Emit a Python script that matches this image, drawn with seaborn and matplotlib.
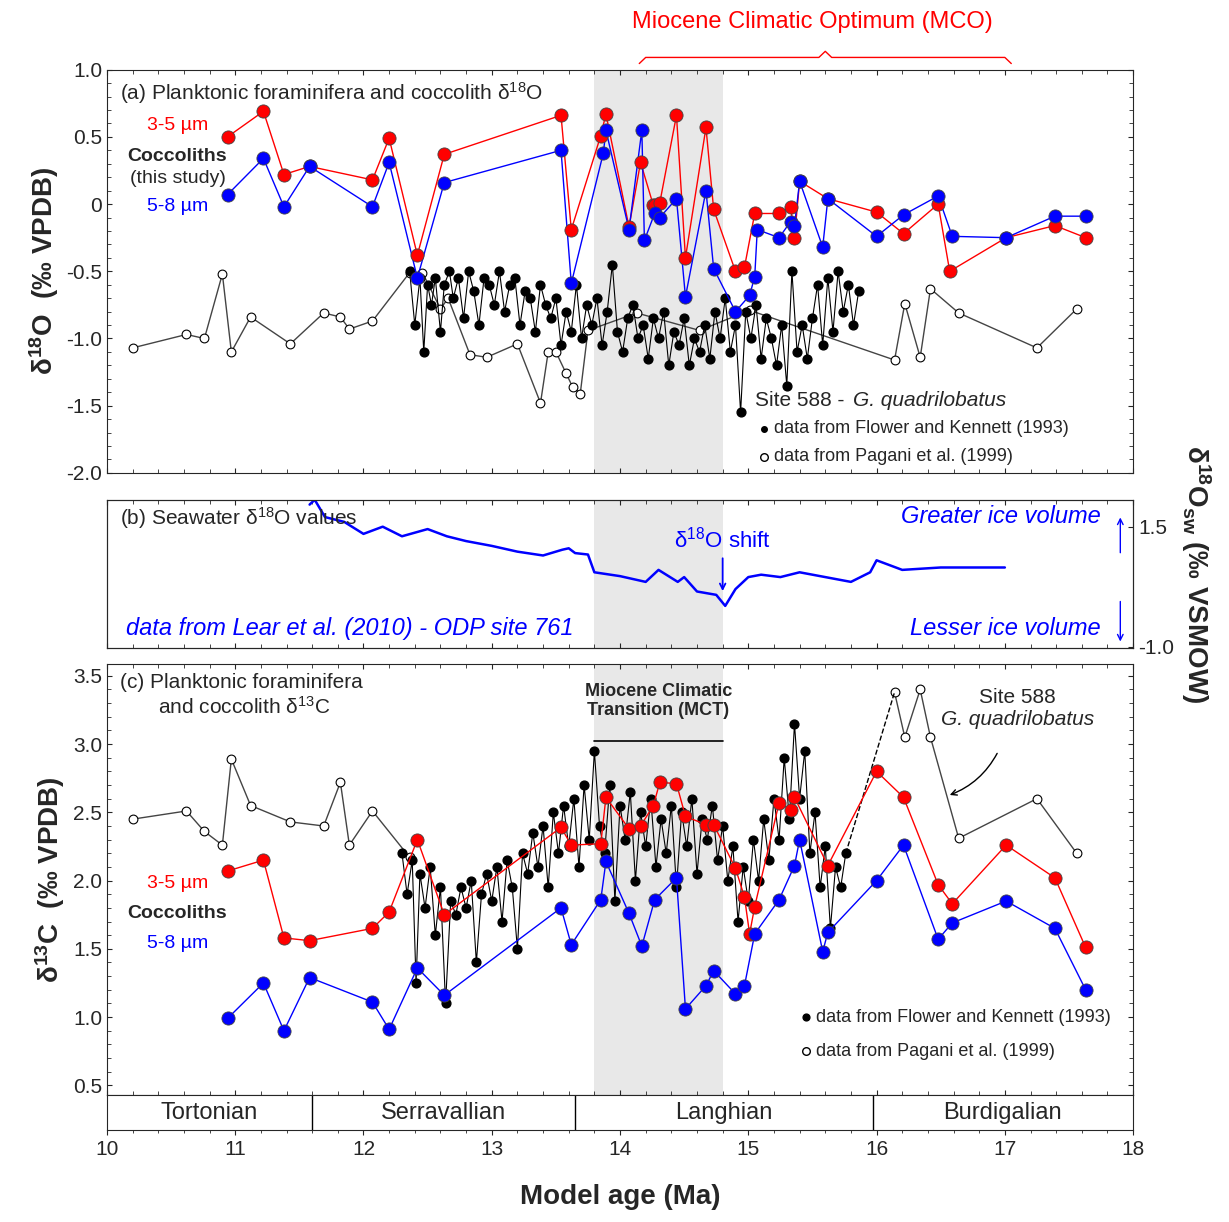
import numpy as np
import matplotlib.pyplot as plt
import seaborn as sns

# ---- panel (a) coccolith d18O ----
red_a_x = [10.94, 11.22, 11.38, 11.58, 12.07, 12.20, 12.42, 12.63, 13.54, 13.62, 13.85, 13.89, 14.07, 14.16, 14.26, 14.27,
           14.31, 14.44, 14.51, 14.67, 14.73, 14.90, 14.97, 15.05, 15.24, 15.33, 15.36, 15.40, 15.62, 16.00, 16.21, 16.48,
           16.57, 17.01, 17.39, 17.63]
red_a_y = [0.50, 0.69, 0.22, 0.28, 0.18, 0.49, -0.38, 0.37, 0.66, -0.19, 0.51, 0.67, -0.17, 0.31, -0.01, -0.01,
           0.01, 0.66, -0.40, 0.57, -0.04, -0.50, -0.47, -0.07, -0.07, -0.02, -0.25, 0.17, 0.04, -0.06, -0.22, 0.0,
           -0.50, -0.25, -0.16, -0.25]
blue_a_x = [10.94, 11.22, 11.38, 11.58, 12.07, 12.20, 12.42, 12.63, 13.54, 13.62, 13.87, 13.89, 14.07, 14.17, 14.19, 14.27,
            14.31, 14.44, 14.51, 14.67, 14.73, 14.90, 15.01, 15.05, 15.07, 15.24, 15.33, 15.36, 15.40, 15.58, 15.62, 16.00,
            16.21, 16.48, 16.59, 17.01, 17.39, 17.63]
blue_a_y = [0.07, 0.34, -0.02, 0.28, -0.02, 0.31, -0.55, 0.16, 0.40, -0.59, 0.38, 0.55, -0.19, 0.55, -0.27, -0.07,
            -0.10, 0.04, -0.69, 0.10, -0.48, -0.80, -0.68, -0.54, -0.19, -0.25, -0.13, -0.16, 0.17, -0.32, 0.04, -0.24,
            -0.08, 0.06, -0.24, -0.25, -0.09, -0.09]
pag_a_x = [10.20, 10.62, 10.76, 10.90, 10.97, 11.12, 11.43, 11.69, 11.82, 11.89, 12.07, 12.36, 12.46, 12.60, 12.66, 12.83,
           12.96, 13.20, 13.38, 13.44, 13.50, 13.58, 13.63, 13.69, 13.75, 14.13, 14.62, 15.01, 16.14, 16.22, 16.34, 16.42,
           16.64, 17.25, 17.56]
pag_a_y = [-1.07, -0.97, -1.00, -0.52, -1.10, -0.84, -1.04, -0.81, -0.84, -0.93, -0.87, -0.51, -0.51, -0.78, -0.70, -1.12,
           -1.14, -1.04, -1.48, -1.10, -1.10, -1.26, -1.36, -1.41, -0.94, -0.81, -0.94, -0.79, -1.16, -0.74, -1.14, -0.63,
           -0.81, -1.07, -0.78]
fk_a = [(12.36, -0.50), (12.40, -0.90), (12.44, -0.55), (12.47, -1.10), (12.50, -0.60), (12.53, -0.75), (12.56, -0.55),
        (12.60, -0.95), (12.63, -0.60), (12.67, -0.50), (12.70, -0.70), (12.74, -0.55), (12.78, -0.85), (12.82, -0.50),
        (12.86, -0.65), (12.90, -0.90), (12.94, -0.55), (12.98, -0.60), (13.02, -0.75), (13.06, -0.50), (13.10, -0.80),
        (13.14, -0.60), (13.18, -0.55), (13.22, -0.90), (13.26, -0.65), (13.30, -0.70), (13.34, -0.95), (13.38, -0.60),
        (13.42, -0.75), (13.46, -0.85), (13.50, -0.70), (13.54, -1.05), (13.58, -0.80), (13.62, -0.95), (13.66, -0.60),
        (13.70, -1.00), (13.74, -0.75), (13.78, -0.90), (13.82, -0.70), (13.86, -1.05), (13.90, -0.80), (13.94, -0.45),
        (13.98, -0.95), (14.02, -1.10), (14.06, -0.85), (14.10, -0.75), (14.14, -1.00), (14.18, -0.90), (14.22, -1.15),
        (14.26, -0.85), (14.30, -1.00), (14.34, -0.80), (14.38, -1.20), (14.42, -0.95), (14.46, -1.05), (14.50, -0.85),
        (14.54, -1.20), (14.58, -1.00), (14.62, -1.10), (14.66, -0.90), (14.70, -1.15), (14.74, -0.80), (14.78, -1.00),
        (14.82, -0.70), (14.86, -1.10), (14.90, -0.90), (14.94, -1.55), (14.98, -0.80), (15.02, -1.00), (15.06, -0.75),
        (15.10, -1.15), (15.14, -0.85), (15.18, -1.00), (15.22, -1.20), (15.26, -0.90), (15.30, -1.35), (15.34, -0.50),
        (15.38, -1.10), (15.42, -0.90), (15.46, -1.15), (15.50, -0.85), (15.54, -0.60), (15.58, -1.05), (15.62, -0.55),
        (15.66, -0.95), (15.70, -0.50), (15.74, -0.80), (15.78, -0.60), (15.82, -0.90), (15.86, -0.65)]

# ---- panel (b) seawater d18O ----
sw_x = [11.58, 11.62, 11.70, 11.85, 12.00, 12.15, 12.30, 12.50, 12.65, 12.80, 13.00, 13.20, 13.40, 13.55, 13.60, 13.65,
        13.75, 13.80, 14.00, 14.20, 14.30, 14.45, 14.50, 14.60, 14.75, 14.82, 14.90, 15.00, 15.10, 15.25, 15.40, 15.60,
        15.80, 15.95, 16.00, 16.20, 16.50, 16.80, 17.00]
sw_y = [1.96, 2.06, 1.70, 1.60, 1.35, 1.50, 1.30, 1.45, 1.30, 1.20, 1.10, 0.98, 0.90, 1.02, 1.05, 0.95,
        0.92, 0.55, 0.47, 0.35, 0.60, 0.35, 0.45, 0.15, 0.08, -0.15, 0.20, 0.45, 0.50, 0.45, 0.55, 0.45,
        0.35, 0.55, 0.80, 0.60, 0.65, 0.65, 0.65]

# ---- panel (c) d13C ----
red_c_x = [10.94, 11.22, 11.38, 11.58, 12.07, 12.20, 12.42, 12.63, 13.54, 13.62, 13.85, 13.89, 14.07, 14.16, 14.26, 14.31,
           14.44, 14.51, 14.67, 14.73, 14.90, 14.97, 15.01, 15.05, 15.24, 15.33, 15.36, 15.62, 16.00, 16.21, 16.48, 16.59,
           17.01, 17.39, 17.63]
red_c_y = [2.07, 2.15, 1.58, 1.56, 1.65, 1.77, 2.30, 1.75, 2.39, 2.26, 2.27, 2.61, 2.38, 2.40, 2.55, 2.72,
           2.71, 2.47, 2.41, 2.41, 2.09, 1.88, 1.61, 1.81, 2.57, 2.52, 2.61, 2.11, 2.80, 2.61, 1.97, 1.83,
           2.26, 2.02, 1.51]
blue_c_x = [10.94, 11.22, 11.38, 11.58, 12.07, 12.20, 12.42, 12.63, 13.54, 13.62, 13.85, 13.89, 14.07, 14.17, 14.27, 14.44,
            14.51, 14.67, 14.73, 14.90, 14.97, 15.05, 15.24, 15.36, 15.40, 15.58, 15.62, 16.00, 16.21, 16.48, 16.59, 17.01,
            17.39, 17.63]
blue_c_y = [0.99, 1.25, 0.90, 1.29, 1.11, 0.91, 1.36, 1.16, 1.80, 1.53, 1.86, 2.14, 1.76, 1.52, 1.86, 2.02,
            1.06, 1.23, 1.34, 1.17, 1.23, 1.61, 1.86, 2.11, 2.30, 1.48, 1.62, 2.00, 2.26, 1.57, 1.69, 1.85,
            1.65, 1.20]
pag_c_x = [10.20, 10.62, 10.76, 10.90, 10.97, 11.12, 11.43, 11.69, 11.82, 11.89, 12.07, 12.36]
pag_c_y = [2.45, 2.51, 2.36, 2.26, 2.89, 2.55, 2.43, 2.40, 2.72, 2.26, 2.51, 2.17]
pag_c2_x = [16.14, 16.22, 16.34, 16.42, 16.64, 17.25, 17.56]
pag_c2_y = [3.38, 3.05, 3.40, 3.05, 2.31, 2.60, 2.20]
fk_c = [(12.30, 2.20), (12.34, 1.90), (12.38, 2.15), (12.41, 1.25), (12.44, 2.05), (12.48, 1.80), (12.52, 2.10),
        (12.56, 1.60), (12.60, 1.95), (12.64, 1.10), (12.68, 1.85), (12.72, 1.75), (12.76, 1.95), (12.80, 1.80),
        (12.84, 2.00), (12.88, 1.40), (12.92, 1.90), (12.96, 2.05), (13.00, 1.85), (13.04, 2.10), (13.08, 1.70),
        (13.12, 2.15), (13.16, 1.95), (13.20, 1.50), (13.24, 2.20), (13.28, 2.05), (13.32, 2.35), (13.36, 2.10),
        (13.40, 2.40), (13.44, 1.95), (13.48, 2.50), (13.52, 2.20), (13.56, 2.55), (13.60, 2.25), (13.64, 2.60),
        (13.68, 2.10), (13.72, 2.70), (13.76, 2.30), (13.80, 2.95), (13.84, 2.40), (13.88, 2.20), (13.92, 2.70),
        (13.96, 1.85), (14.00, 2.55), (14.04, 2.30), (14.08, 2.65), (14.12, 2.00), (14.16, 2.50), (14.20, 2.25),
        (14.24, 2.60), (14.28, 2.10), (14.32, 2.45), (14.36, 2.20), (14.40, 2.55), (14.44, 1.95), (14.48, 2.50),
        (14.52, 2.25), (14.56, 2.60), (14.60, 2.05), (14.64, 2.45), (14.68, 2.30), (14.72, 2.55), (14.76, 2.15),
        (14.80, 2.40), (14.84, 2.00), (14.88, 2.25), (14.92, 1.70), (14.96, 2.10), (15.00, 1.85), (15.04, 2.30),
        (15.08, 2.00), (15.12, 2.45), (15.16, 2.15), (15.20, 2.60), (15.24, 2.30), (15.28, 2.90), (15.32, 2.45),
        (15.36, 3.15), (15.40, 2.60), (15.44, 2.95), (15.48, 2.20), (15.52, 2.50), (15.56, 1.95), (15.60, 2.25),
        (15.64, 1.65), (15.68, 2.10), (15.72, 1.95), (15.76, 2.20)]

stages = ["Tortonian", "Serravallian", "Langhian", "Burdigalian"]
stage_edges = [10.0, 11.6, 13.65, 15.97, 18.0]

sns.set_style("ticks")
plt.rcParams['font.family'] = ['Liberation Sans', 'DejaVu Sans']
plt.rcParams['mathtext.default'] = 'regular'
RED, BLUE = "#ff0000", "#0000ff"

fig = plt.figure(figsize=(12.29, 12.22), dpi=100)
axa = fig.add_axes([0.087, 0.613, 0.835, 0.330])
axb = fig.add_axes([0.087, 0.470, 0.835, 0.121])
axc = fig.add_axes([0.087, 0.104, 0.835, 0.353])
axs = fig.add_axes([0.087, 0.075, 0.835, 0.029])

for ax in (axa, axb, axc):
    ax.axvspan(13.8, 14.8, color="#e8e8e8", zorder=0, lw=0)
    ax.set_xlim(10, 18)
    ax.tick_params(direction="in", top=True, right=True, labelsize=15)
    ax.set_xticks(np.arange(10, 18.1, 1))
    ax.set_xticks(np.arange(10, 18.1, 0.2), minor=True)
    ax.tick_params(which="minor", direction="in", top=True, length=3)
    ax.set_xticklabels([])

def coccs(ax, x, y, c):
    sns.lineplot(x=x, y=y, ax=ax, color=c, lw=1, sort=False, zorder=3, estimator=None)
    ax.scatter(x, y, s=90, color=c, edgecolor="#444444", lw=0.6, zorder=4)

def black(ax, pts):
    x, y = zip(*pts)
    ax.plot(x, y, color="black", lw=0.8, zorder=2)
    ax.scatter(x, y, s=40, color="black", zorder=2)

def opens(ax, x, y):
    ax.plot(x, y, color="#444444", lw=1, zorder=1)
    ax.scatter(x, y, s=40, facecolor="white", edgecolor="black", lw=0.8, zorder=2)

# (a)
opens(axa, pag_a_x, pag_a_y)
black(axa, fk_a)
coccs(axa, red_a_x, red_a_y, RED)
coccs(axa, blue_a_x, blue_a_y, BLUE)
axa.set_ylim(-2.0, 1.0)
axa.set_yticks(np.arange(-2.0, 1.01, 0.5))
axa.set_yticklabels(["-2.0", "-1.5", "-1.0", "-0.5", "0", "0.5", "1.0"])
axa.set_yticks(np.arange(-2.0, 1.01, 0.1), minor=True)
axa.tick_params(which="minor", axis="y", direction="in", right=True, length=3)
axa.set_ylabel(r"$\delta^{18}$O  (‰ VPDB)", fontsize=20, fontweight="bold")
axa.text(10.1, 0.92, r"(a) Planktonic foraminifera and coccolith $\delta^{18}$O", fontsize=15, va="top")
axa.text(10.55, 0.55, "3-5 µm", color=RED, fontsize=14, ha="center")
axa.text(10.55, 0.32, "Coccoliths", fontsize=14, fontweight="bold", ha="center")
axa.text(10.55, 0.16, "(this study)", fontsize=14, ha="center")
axa.text(10.55, -0.05, "5-8 µm", color=BLUE, fontsize=14, ha="center")
axa.text(15.05, -1.5, "Site 588 - ", fontsize=15)
axa.text(15.82, -1.5, "G. quadrilobatus", fontsize=15, style="italic")
axa.scatter([15.12], [-1.67], s=16, color="black")
axa.text(15.2, -1.67, "data from Flower and Kennett (1993)", fontsize=13, va="center")
axa.scatter([15.12], [-1.88], s=30, facecolor="white", edgecolor="black")
axa.text(15.2, -1.88, "data from Pagani et al. (1999)", fontsize=13, va="center")

# (b)
axb.plot(sw_x, sw_y, color=BLUE, lw=1.8)
axb.set_ylim(-1.02, 2.06)
axb.set_yticks([])
axb2 = axb.twinx()
axb2.set_ylim(-1.02, 2.06)
axb2.set_yticks([-1.0, 1.5])
axb2.set_yticklabels(["-1.0", "1.5"])
axb2.tick_params(direction="in", labelsize=15)
axb2.set_ylabel(r"$\delta^{18}$O$_{sw}$ (‰ VSMOW)", fontsize=20, fontweight="bold", rotation=-90, labelpad=28)
axb.text(10.1, 1.95, r"(b) Seawater $\delta^{18}$O values", fontsize=15, va="top")
axb.text(10.15, -0.75, "data from Lear et al. (2010) - ODP site 761", color=BLUE, fontsize=17, style="italic")
axb.text(17.75, 1.95, "Greater ice volume", color=BLUE, fontsize=17, style="italic", ha="right", va="top")
axb.text(17.75, -0.75, "Lesser ice volume", color=BLUE, fontsize=17, style="italic", ha="right")
axb.annotate("", xy=(17.9, 1.75), xytext=(17.9, 0.9), arrowprops=dict(arrowstyle="->", color=BLUE))
axb.annotate("", xy=(17.9, -0.95), xytext=(17.9, 0.0), arrowprops=dict(arrowstyle="->", color=BLUE))
axb.text(14.8, 1.5, r"$\delta^{18}$O shift", color=BLUE, fontsize=16, ha="center", va="top")
axb.annotate("", xy=(14.8, 0.1), xytext=(14.8, 0.9), arrowprops=dict(arrowstyle="->", color=BLUE, lw=1.3))

# (c)
opens(axc, pag_c_x, pag_c_y)
opens(axc, pag_c2_x, pag_c2_y)
axc.plot([15.76, 16.14], [2.2, 3.38], color="black", ls="--", lw=1)
black(axc, fk_c)
coccs(axc, red_c_x, red_c_y, RED)
coccs(axc, blue_c_x, blue_c_y, BLUE)
axc.set_ylim(0.43, 3.59)
axc.set_yticks(np.arange(0.5, 3.51, 0.5))
axc.set_yticks(np.arange(0.5, 3.51, 0.1), minor=True)
axc.tick_params(which="minor", axis="y", direction="in", right=True, length=3)
axc.set_ylabel(r"$\delta^{13}$C  (‰ VPDB)", fontsize=20, fontweight="bold")
axc.text(10.1, 3.52, "(c) Planktonic foraminifera", fontsize=15, va="top")
axc.text(10.4, 3.35, r"and coccolith $\delta^{13}$C", fontsize=15, va="top")
axc.text(10.55, 1.98, "3-5 µm", color=RED, fontsize=14, ha="center", va="center")
axc.text(10.55, 1.76, "Coccoliths", fontsize=14, fontweight="bold", ha="center", va="center")
axc.text(10.55, 1.54, "5-8 µm", color=BLUE, fontsize=14, ha="center", va="center")
axc.text(14.3, 3.45, "Miocene Climatic\nTransition (MCT)", fontsize=13, fontweight="bold", ha="center", va="top")
axc.plot([13.8, 14.8], [3.02, 3.02], color="black", lw=1.2)
axc.text(17.1, 3.34, "Site 588", fontsize=15, ha="center", va="center")
axc.text(17.1, 3.18, "G. quadrilobatus", fontsize=15, style="italic", ha="center", va="center")
axc.annotate("", xy=(16.55, 2.62), xytext=(16.95, 2.95),
             arrowprops=dict(arrowstyle="->", color="black", connectionstyle="arc3,rad=-0.2"))
axc.scatter([15.45], [1.0], s=24, color="black")
axc.text(15.53, 1.0, "data from Flower and Kennett (1993)", fontsize=13, va="center")
axc.scatter([15.45], [0.75], s=30, facecolor="white", edgecolor="black")
axc.text(15.53, 0.75, "data from Pagani et al. (1999)", fontsize=13, va="center")

# stages
axs.set_xlim(10, 18)
axs.set_ylim(0, 1)
axs.set_yticks([])
for i, name in enumerate(stages):
    axs.text((stage_edges[i] + stage_edges[i + 1]) / 2, 0.5, name, fontsize=17, ha="center", va="center")
    if i > 0:
        axs.axvline(stage_edges[i], color="black", lw=1)
axs.set_xticks(np.arange(10, 18.1, 1))
axs.set_xticks(np.arange(10, 18.1, 0.2), minor=True)
axs.tick_params(which="both", direction="out", labelsize=15)
axs.set_xlabel("Model age (Ma)", fontsize=20, fontweight="bold", labelpad=18)

# MCO brace
fig.text(0.661, 0.977, "Miocene Climatic Optimum (MCO)", color=RED, fontsize=17, ha="center")
bx = np.array([14.15, 14.2, 15.55, 15.6, 15.65, 17.0, 17.05])
by = np.array([0.948, 0.953, 0.953, 0.958, 0.953, 0.953, 0.948])
fig.lines.append(plt.Line2D(0.087 + (bx - 10) / 8 * 0.835, by, color=RED, lw=1, transform=fig.transFigure))

fig.savefig("out.png", dpi=100)
